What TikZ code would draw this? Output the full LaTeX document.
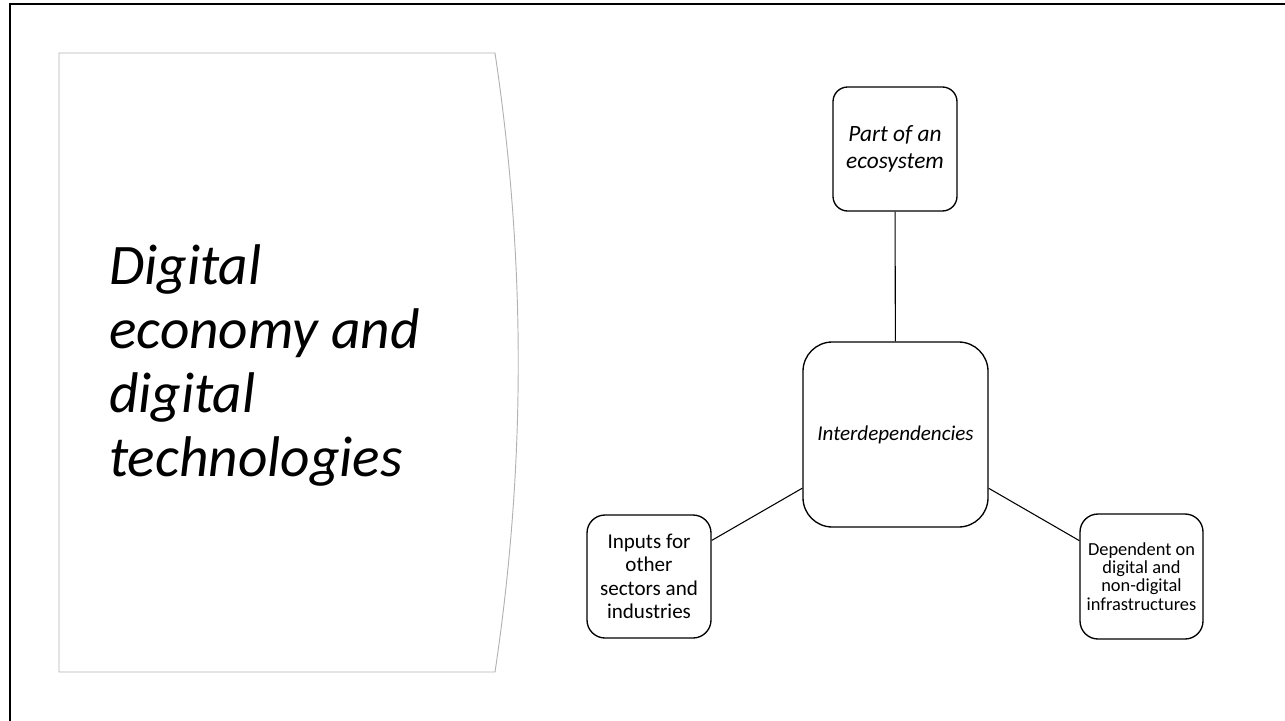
\documentclass[tikz,border=0pt]{standalone}
\usepackage{fontspec}
\setmainfont{Carlito}
\begin{document}
\begin{tikzpicture}[x=0.75pt,y=-0.75pt,
  every node/.style={align=center,inner sep=0pt},
  box/.style={draw,line width=1pt,minimum width=93pt,minimum height=93pt},
  link/.style={line width=0.8pt}]
\useasboundingbox (0,0) rectangle (1285,721);
% slide frame
\draw[line width=1.6pt] (10,721) -- (10,4) -- (1285,4);
% title panel
\draw[black!30,line width=0.7pt] (495,53) -- (59,53) -- (59,672) -- (495,672)
  .. controls (526,465) and (526,260) .. (495,53);
\node[anchor=west,align=left,font=\fontsize{43}{48}\selectfont\itshape] (title) at (109,366)
  {Digital\\economy and\\digital\\technologies};
% centre and spokes
\node[box,rounded corners=22pt,minimum width=138.75pt,minimum height=138.75pt,
  font=\fontsize{15.8}{18}\selectfont\itshape] (hub) at (895.5,434.5) {Interdependencies};
\node[box,rounded corners=11pt,font=\fontsize{17.5}{20}\selectfont\itshape] (eco) at (895,149)
  {Part of an\\ecosystem};
\node[box,rounded corners=13.5pt,minimum height=92.25pt,
  font=\fontsize{15.8}{17.5}\selectfont] (inputs) at (649,576.5)
  {Inputs for\\other\\sectors and\\industries};
\node[box,rounded corners=13.5pt,minimum width=92.25pt,minimum height=93.75pt,
  font=\fontsize{13.8}{13.6}\selectfont] (infra) at (1141.5,576.5)
  {Dependent on\\digital and\\non-digital\\infrastructures};
\draw[link] (eco) -- (hub);
\draw[link] (hub) -- (inputs);
\draw[link] (hub) -- (infra);
\end{tikzpicture}
\end{document}
